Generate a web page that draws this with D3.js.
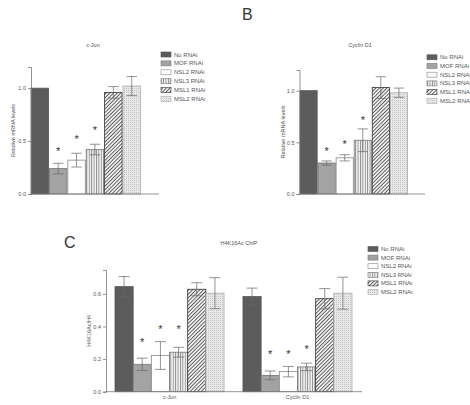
<!DOCTYPE html>
<html><head><meta charset="utf-8">
<script src="https://cdn.jsdelivr.net/npm/d3@7"></script>
<style>body{margin:0;background:#fff}svg{display:block;font-family:"Liberation Sans",Arial,sans-serif}</style>
</head><body><svg id="c" width="470" height="405"></svg>
<script>
const series = ["No RNAi","MOF RNAi","NSL2 RNAi","NSL3 RNAi","MSL1 RNAi","MSL2 RNAi"];
// Panel B: relative mRNA levels
const cJunMrna = [1.0, 0.24, 0.32, 0.42, 0.96, 1.02];
const cJunMrnaErr = [0, 0.05, 0.065, 0.05, 0.055, 0.09];
const cJunMrnaSig = [false, true, true, true, false, false];
const cycMrna = [1.0, 0.30, 0.35, 0.52, 1.03, 0.98];
const cycMrnaErr = [0, 0.02, 0.03, 0.11, 0.105, 0.045];
const cycMrnaSig = [false, true, true, true, false, false];
const mrnaTicks = [0, 0.5, 1.0];
// Panel C: H4K16Ac ChIP
const chipGroups = ["c-Jun","Cyclin D1"];
const chipCJun = [0.644, 0.168, 0.222, 0.242, 0.628, 0.604];
const chipCJunErr = [0.062, 0.038, 0.085, 0.03, 0.04, 0.095];
const chipCyc = [0.583, 0.100, 0.123, 0.152, 0.570, 0.604];
const chipCycErr = [0.052, 0.027, 0.032, 0.023, 0.062, 0.098];
const chipSig = [false, true, true, true, false, false];
const chipTicks = [0, 0.2, 0.4, 0.6];

const svg = d3.select("#c");
const defs = svg.append("defs");
// patterns
const pV = defs.append("pattern").attr("id","pv").attr("patternUnits","userSpaceOnUse").attr("width",2.4).attr("height",4);
pV.append("rect").attr("width",2.4).attr("height",4).attr("fill","#f4f4f4");
pV.append("rect").attr("width",0.9).attr("height",4).attr("fill","#8a8a8a");
const pD = defs.append("pattern").attr("id","pd").attr("patternUnits","userSpaceOnUse").attr("width",2.6).attr("height",2.6).attr("patternTransform","rotate(45)");
pD.append("rect").attr("width",2.6).attr("height",2.6).attr("fill","#f2f2f2");
pD.append("rect").attr("width",0.9).attr("height",2.6).attr("fill","#555");
const pP = defs.append("pattern").attr("id","pp").attr("patternUnits","userSpaceOnUse").attr("width",2).attr("height",2);
pP.append("rect").attr("width",2).attr("height",2).attr("fill","#e8e8e8");
pP.append("rect").attr("width",1).attr("height",1).attr("fill","#c4c4c4");

const fills = ["#5c5c5c","#a3a3a3","#ffffff","url(#pv)","url(#pd)","url(#pp)"];
const strokes = ["#555","#777","#888","#777","#333","#aaa"];
const axisCol = "#777", textCol = "#555";

function yAxis(g, y, x0, ticks, label, labelX) {
  const ax = g.append("g").attr("transform",`translate(${x0},0)`)
    .call(d3.axisLeft(y).tickValues(ticks).tickFormat(d3.format(".1f")).tickSize(3).tickPadding(2));
  ax.select(".domain").attr("stroke",axisCol).attr("stroke-width",0.8);
  ax.selectAll(".tick line").attr("stroke",axisCol).attr("stroke-width",0.8);
  ax.selectAll("text").attr("fill",textCol).attr("font-size",5.5);
  const yc = (y.range()[0]+y.range()[1])/2;
  g.append("text").attr("transform",`translate(${labelX},${yc}) rotate(-90)`)
    .attr("text-anchor","middle").attr("font-size",5.5).attr("fill",textCol).text(label);
}
function xLine(g, x1, x2, yv) {
  g.append("line").attr("x1",x1).attr("x2",x2).attr("y1",yv).attr("y2",yv).attr("stroke",axisCol).attr("stroke-width",0.8);
}
function bars(g, xs, y, vals, errs) {
  const bw = xs.bandwidth();
  const sel = g.selectAll(null).data(vals).enter();
  sel.append("rect").attr("x",(d,i)=>xs(series[i])).attr("width",bw)
    .attr("y",d=>y(d)).attr("height",d=>y(0)-y(d))
    .attr("fill",(d,i)=>fills[i]).attr("stroke",(d,i)=>strokes[i]).attr("stroke-width",0.8);
  vals.forEach((v,i)=>{
    if (!errs[i]) return;
    const cx = xs(series[i]) + bw/2, cw = bw*0.3;
    const e = g.append("g").attr("stroke","#666").attr("stroke-width",0.7);
    e.append("line").attr("x1",cx).attr("x2",cx).attr("y1",y(v+errs[i])).attr("y2",y(v-errs[i]));
    e.append("line").attr("x1",cx-cw).attr("x2",cx+cw).attr("y1",y(v+errs[i])).attr("y2",y(v+errs[i]));
    e.append("line").attr("x1",cx-cw).attr("x2",cx+cw).attr("y1",y(v-errs[i])).attr("y2",y(v-errs[i]));
  });
  return bw;
}
function stars(g, xs, yPos, sig) {
  sig.forEach((s,i)=>{
    if (!s) return;
    g.append("text").attr("x",xs(series[i])+xs.bandwidth()/2).attr("y",yPos[i]+6.5)
      .attr("text-anchor","middle").attr("font-size",11).attr("fill","#333").text("*");
  });
}
function legend(g, x, y0, step) {
  series.forEach((s,i)=>{
    g.append("rect").attr("x",x).attr("y",y0+i*step-2.5).attr("width",10).attr("height",5)
      .attr("fill",fills[i]).attr("stroke",strokes[i]).attr("stroke-width",0.6);
    g.append("text").attr("x",x+13).attr("y",y0+i*step+2).attr("font-size",6).attr("fill",textCol).text(s);
  });
}

// Letters
svg.append("text").attr("x",242).attr("y",20).attr("font-size",16).attr("fill","#333").text("B");
svg.append("text").attr("x",64).attr("y",248).attr("font-size",16).attr("fill","#333").text("C");

// Panel B1
{
  const g = svg.append("g");
  const y = d3.scaleLinear().domain([0,1.2]).range([194,67]);
  const xs = d3.scaleBand().domain(series).range([31,140.5]).paddingInner(0.05);
  bars(g, xs, y, cJunMrna, cJunMrnaErr);
  yAxis(g, y, 31, mrnaTicks, "Relative mRNA levels", 15);
  xLine(g, 31, 159, 194);
  stars(g, xs, [0,148,136,127,0,0], cJunMrnaSig);
  g.append("text").attr("x",93).attr("y",47).attr("text-anchor","middle").attr("font-size",5.5).attr("fill",textCol).text("c-Jun");
  legend(g, 161, 54.5, 8.9);
}
// Panel B2
{
  const g = svg.append("g");
  const y = d3.scaleLinear().domain([0,1.2]).range([194,70]);
  const xs = d3.scaleBand().domain(series).range([300,407.5]).paddingInner(0.05);
  bars(g, xs, y, cycMrna, cycMrnaErr);
  yAxis(g, y, 299.5, mrnaTicks, "Relative mRNA levels", 285);
  xLine(g, 299.5, 425, 194);
  stars(g, xs, [0,148,141.5,117.5,0,0], cycMrnaSig);
  g.append("text").attr("x",360).attr("y",47).attr("text-anchor","middle").attr("font-size",5.5).attr("fill",textCol).text("Cyclin D1");
  legend(g, 427, 57.3, 8.7);
}
// Panel C
{
  const g = svg.append("g");
  const y = d3.scaleLinear().domain([0,0.746]).range([391.7,270]);
  const xg = d3.scaleBand().domain(chipGroups).range([115,352]).paddingInner(0.148);
  const data = [chipCJun, chipCyc], errs = [chipCJunErr, chipCycErr];
  const starY = [[0,339,326,326,0,0],[0,351.7,351.7,346,0,0]];
  chipGroups.forEach((grp,k)=>{
    const xs = d3.scaleBand().domain(series).range([xg(grp), xg(grp)+xg.bandwidth()]).padding(0);
    bars(g, xs, y, data[k], errs[k]);
    stars(g, xs, starY[k], chipSig);
    g.append("text").attr("x",xg(grp)+xg.bandwidth()/2).attr("y",399).attr("text-anchor","middle")
      .attr("font-size",5.5).attr("fill",textCol).text(grp);
  });
  yAxis(g, y, 106, chipTicks, "H4K16Ac/H4", 91);
  xLine(g, 106, 362, 391.7);
  g.append("text").attr("x",239).attr("y",245).attr("text-anchor","middle").attr("font-size",5.5).attr("fill",textCol).text("H4K16Ac ChIP");
  legend(g, 368, 249, 8.6);
}
</script></body></html>
